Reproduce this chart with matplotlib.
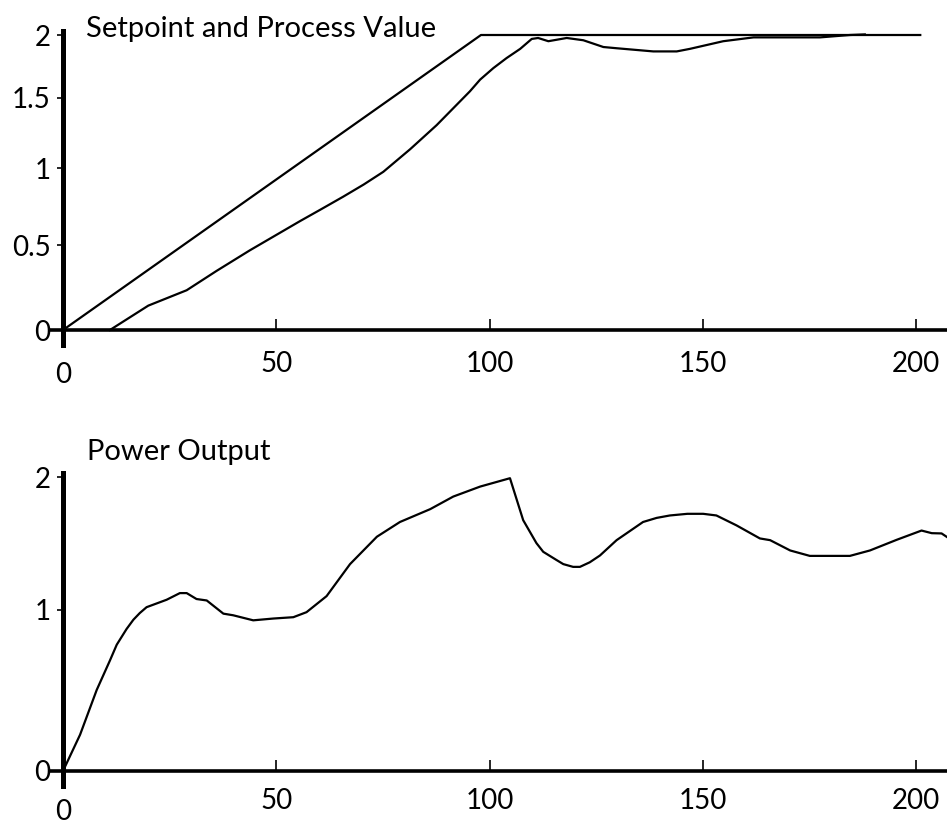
import numpy as np
import matplotlib
matplotlib.use("Agg")
import matplotlib.pyplot as plt

# --- 1. Data ---
# top panel: setpoint ramp and process value
sp_x = [0, 98, 201]
sp_y = [0, 2, 2]

pv_x = [11, 20, 29, 36, 43.8, 55.6, 60.3, 65.7, 70.5, 75.1, 81.4, 87.6, 95.4,
        97.8, 100.9, 104, 107.2, 109.9, 111.4, 113.8, 118.1, 122, 126.7, 129.8,
        138.4, 143.9, 147, 154.8, 161.9, 177.5, 184.5, 188]
pv_y = [0, 0.14, 0.23, 0.345, 0.47, 0.653, 0.725, 0.81, 0.89, 0.975, 1.13, 1.30,
        1.55, 1.64, 1.73, 1.81, 1.885, 1.967, 1.975, 1.948, 1.975, 1.956, 1.90,
        1.89, 1.864, 1.864, 1.885, 1.948, 1.98, 1.98, 2.0, 2.005]

# bottom panel: power output
po_x = [0, 4.0, 7.9, 11, 12.6, 14.9, 16.5, 18.0, 19.6, 24.3, 27.4, 29, 31.3,
        33.7, 37.6, 39.9, 44.6, 49.3, 54, 57.1, 61.8, 67.3, 73.6, 79, 86.1,
        91.5, 97.8, 104.8, 107.9, 111, 112.6, 115.7, 117.3, 119.6, 121.2,
        123.5, 125.9, 129.8, 136, 139.2, 142.3, 146.4, 150.1, 153.2, 157.9,
        163.4, 165.8, 170.5, 175.1, 184.5, 189.2, 195.5, 201.3, 203.7, 206,
        207.3]
po_y = [0, 0.21, 0.48, 0.665, 0.767, 0.87, 0.932, 0.977, 1.017, 1.068, 1.114,
        1.114, 1.073, 1.063, 0.973, 0.962, 0.928, 0.94, 0.949, 0.983, 1.093,
        1.32, 1.523, 1.636, 1.737, 1.838, 1.92, 1.99, 1.65, 1.475, 1.41, 1.35,
        1.32, 1.30, 1.30, 1.333, 1.383, 1.497, 1.636, 1.668, 1.687, 1.70, 1.70,
        1.687, 1.61, 1.51, 1.497, 1.42, 1.38, 1.38, 1.42, 1.50, 1.57, 1.55,
        1.548, 1.52]

top_yticks = [0, 0.5, 1, 1.5, 2]
top_ylabels = ["0", "0.5", "1", "1.5", "2"]
bot_yticks = [0, 1, 2]
bot_ylabels = ["0", "1", "2"]
xticks = [0, 50, 100, 150, 200]
xlabels = ["0", "50", "100", "150", "200"]

# --- 2. Style ---
plt.rcParams['font.family'] = ['Lato', 'DejaVu Sans']
FS = 20

# the vertical axis of the original is slightly compressed towards the top
A, B = 0.5975, -0.04875

def fwd(v):
    v = np.asarray(v, dtype=float)
    return A * v + B * v * v

def inv(u):
    u = np.asarray(u, dtype=float)
    disc = np.clip(A * A + 4 * B * u, 0, None)
    return (-A + np.sqrt(disc)) / (2 * B)


def style_axes(ax, yticks, ylabels, xpad):
    ax.set_yscale('function', functions=(fwd, inv))
    ax.set_xlim(-3.05, 207.27)
    ax.set_ylim(-0.085, 2.03)
    for side in ['top', 'right']:
        ax.spines[side].set_visible(False)
    ax.spines['left'].set_position(('data', 0))
    ax.spines['bottom'].set_position(('data', 0))
    ax.spines['left'].set_linewidth(3.6)
    ax.spines['bottom'].set_linewidth(2.6)
    ax.set_xticks(xticks)
    ax.set_xticklabels(xlabels)
    ax.set_yticks(yticks)
    ax.set_yticklabels(ylabels)
    ax.minorticks_off()
    ax.tick_params(axis='x', direction='in', length=8, width=1.2, pad=xpad,
                   labelsize=FS)
    ax.tick_params(axis='y', direction='out', length=4, width=1.2, pad=5,
                   labelsize=FS)
    # the "0" under the origin sits a bit lower in the original
    ax.xaxis.get_major_ticks()[0].set_pad(xpad + 8)
    ax.patch.set_visible(False)


# --- 3. Figure ---
fig = plt.figure(figsize=(9.47, 8.24), dpi=100)

ax1 = fig.add_axes([0.0528, 0.58119, 0.9472, 0.38064])
ax1.plot(sp_x, sp_y, color='black', lw=1.6)
ax1.plot(pv_x, pv_y, color='black', lw=1.6)
style_axes(ax1, top_yticks, top_ylabels, 15)

ax2 = fig.add_axes([0.0528, 0.04612, 0.9472, 0.37925])
ax2.plot(po_x, po_y, color='black', lw=1.6)
style_axes(ax2, bot_yticks, bot_ylabels, 12)

fig.text(86 / 947, 1 - 37 / 824, "Setpoint and Process Value",
         fontsize=21, va='baseline', ha='left')
fig.text(87 / 947, 1 - 460 / 824, "Power Output",
         fontsize=21, va='baseline', ha='left')

# --- 4. Save ---
fig.savefig("out.png", dpi=100)
